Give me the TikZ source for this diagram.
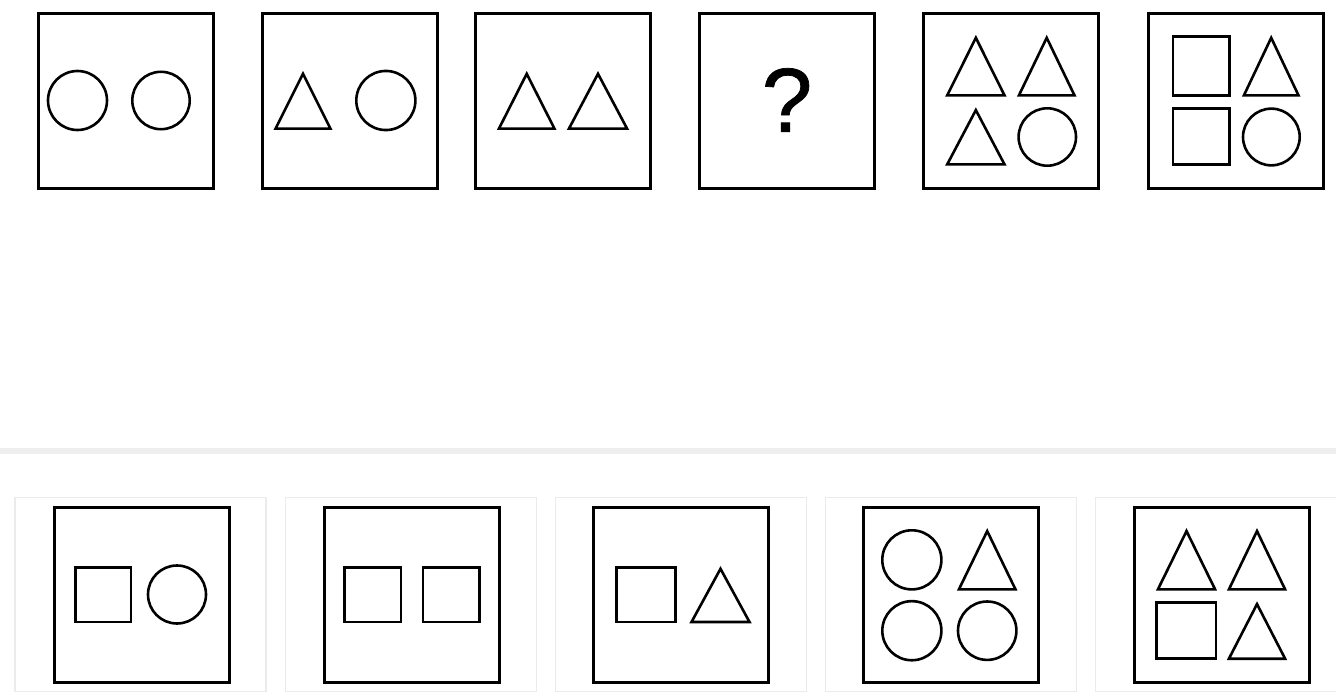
\documentclass[tikz,border=0pt]{standalone}
\usepackage{fontspec}
\newfontfamily\qfont[FakeBold=0.8]{Liberation Sans}
\definecolor{sepgray}{HTML}{EEEEEE}
\definecolor{frmgray}{HTML}{EBEBEB}
\tikzset{
  qbox/.style={draw=black, line width=3pt, minimum width=175pt, minimum height=175pt, inner sep=0pt},
  optframe/.style={draw=frmgray, line width=1.3pt, minimum width=251pt, minimum height=194pt, inner sep=0pt},
  fig/.style={draw=black, line width=2.6pt},
  sepline/.style={draw=sepgray, line width=5.5pt}
}
% outer bounding box of each figure: left, right, top, bottom (pixels, y down)
\newcommand\shTri[4]{\draw[fig] ({#1+2.2},{#4-1.3}) -- ({(#1+#2)/2},{#3+2.8}) -- ({#2-2.2},{#4-1.3}) -- cycle;}
\newcommand\shSq[4]{\draw[fig] ({#1+1.3},{#3+1.3}) rectangle ({#2-1.3},{#4-1.3});}
\newcommand\shCirc[4]{\draw[fig] ({(#1+#2)/2},{(#3+#4)/2}) circle[radius={(#2-#1)/2-1.3}];}
\begin{document}
\begin{tikzpicture}[x=1pt,y=-1pt]
\useasboundingbox[fill=white] (0,0) rectangle (1336,698);

% ---------- top row ----------
\node[qbox] (t1) at (125.5,101) {};
\node[qbox] (t2) at (350,101) {};
\node[qbox] (t3) at (562.5,101) {};
\node[qbox] (t4) at (786.5,101) {};
\node[qbox] (t5) at (1011,101.3) {};
\node[qbox] (t6) at (1235.8,101.3) {};

% box 1: two circles
\shCirc{46.7}{108.3}{70.5}{130.5}
\shCirc{131}{191}{70.5}{130.5}
% box 2: triangle, circle
\shTri{273.3}{332.7}{71}{130}
\shCirc{355}{416.7}{70.5}{130.5}
% box 3: two triangles
\shTri{496.7}{556.7}{71}{130}
\shTri{566.7}{629.3}{71}{130}
% box 4: question mark
\node[font=\qfont\fontsize{91}{91}\selectfont, inner sep=0pt] (qm) at (787,100) {?};
% box 5
\shTri{945}{1006.7}{35}{96.7}
\shTri{1016.7}{1076.7}{35}{96.7}
\shTri{945}{1006.7}{107.3}{165.7}
\shCirc{1017.3}{1077.3}{107.3}{166.7}
% box 6
\shSq{1171.7}{1231}{35}{96.7}
\shSq{1171.7}{1231}{107.3}{165.7}
\shTri{1241.7}{1300.7}{35}{96.7}
\shCirc{1241.7}{1301}{107.3}{166.7}

% ---------- separator ----------
\coordinate (sl) at (0,451);
\coordinate (sr) at (1336,451);
\draw[sepline] (sl) -- (sr);

% ---------- option frames ----------
\node[optframe] (f1) at (140.5,594.8) {};
\node[optframe] (f2) at (410.8,594.8) {};
\node[optframe] (f3) at (680.8,594.8) {};
\node[optframe] (f4) at (950.8,594.8) {};
\node[optframe] (f5) at (1221,594.8) {};

\node[qbox] (b1) at (141.6,594.8) {};
\node[qbox] (b2) at (412,594.8) {};
\node[qbox] (b3) at (681.2,594.8) {};
\node[qbox] (b4) at (951.2,594.8) {};
\node[qbox] (b5) at (1221.7,594.8) {};

% option 1: square, circle
\shSq{74}{132.3}{566}{623.3}
\shCirc{146.7}{207.3}{565}{624}
% option 2: two squares
\shSq{343.3}{402.3}{566}{623.3}
\shSq{421.7}{480.7}{566}{623.3}
% option 3: square, triangle
\shSq{615}{676.7}{566}{623.3}
\shTri{689.3}{751.7}{566}{623.3}
% option 4
\shCirc{881}{942.7}{529}{590.7}
\shTri{956.7}{1017.7}{528.3}{590.7}
\shCirc{881}{942.7}{600.7}{660.7}
\shCirc{956.7}{1017.7}{600.7}{660.7}
% option 5
\shTri{1155.7}{1217.3}{528.3}{590.7}
\shTri{1226.7}{1287.3}{528.3}{590.7}
\shSq{1155}{1217.3}{601.3}{660}
\shTri{1226.7}{1287.3}{601.3}{660}
\end{tikzpicture}
\end{document}
